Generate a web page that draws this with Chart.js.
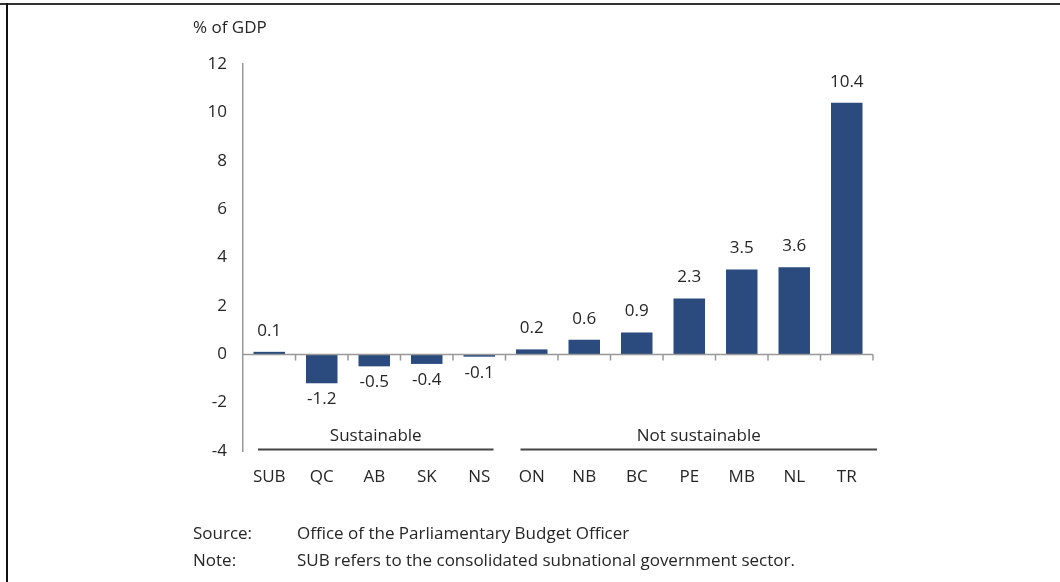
<!DOCTYPE html>
<html>
<head>
<meta charset="utf-8">
<script src="https://cdn.jsdelivr.net/npm/chart.js@4"></script>
<style>
    body { margin: 0; background: #fff; }
    .frame { position: relative; width: 1060px; height: 582px; overflow: hidden; }
    .frame::before { content: ''; position: absolute; left: 0; top: 3px; width: 1060px; height: 2px; background: #333; }
    .frame::after { content: ''; position: absolute; left: 6px; top: 3px; width: 2px; height: 582px; background: #111; }
    canvas { position: absolute; left: 0; top: 0; }
</style>
</head>
<body>
<div class="frame">
    <canvas id="gapChart" width="1060" height="582"></canvas>
</div>
<script>
const regions = ['SUB', 'QC', 'AB', 'SK', 'NS', 'ON', 'NB', 'BC', 'PE', 'MB', 'NL', 'TR']
const gapValues = [0.1, -1.2, -0.5, -0.4, -0.1, 0.2, 0.6, 0.9, 2.3, 3.5, 3.6, 10.4]
const yTicks = [12, 10, 8, 6, 4, 2, 0, -2, -4]
const groups = [
    { label: 'Sustainable', from: 0, to: 4 },
    { label: 'Not sustainable', from: 5, to: 11 },
]
const footnotes = [
    ['Source:', 'Office of the Parliamentary Budget Officer'],
    ['Note:', 'SUB refers to the consolidated subnational government sector.'],
]

const FONT = '"Open Sans", sans-serif'
const SIZE = 17
const WEIGHT = 500
const TEXT = '#262626'
const AXIS = '#999999'
const BAR = '#2b4a7e'

const annotations = {
    id: 'annotations',
    afterDatasetsDraw(chart) {
        const { ctx, scales: { x, y }, chartArea } = chart
        ctx.save()

        // zero line with downward ticks between categories
        const y0 = Math.round(y.getPixelForValue(0)) + 0.5
        ctx.strokeStyle = AXIS
        ctx.lineWidth = 1.5
        ctx.beginPath()
        ctx.moveTo(chartArea.left, y0)
        ctx.lineTo(chartArea.right, y0)
        const step = x.width / regions.length
        for (let i = 1; i <= regions.length; i++) {
            const px = chartArea.left + step * i
            ctx.moveTo(px, y0)
            ctx.lineTo(px, y0 + 6)
        }
        ctx.stroke()

        // value labels
        ctx.fillStyle = TEXT
        ctx.font = `${WEIGHT} ${SIZE}px ${FONT}`
        ctx.textAlign = 'center'
        ctx.textBaseline = 'middle'
        const meta = chart.getDatasetMeta(0)
        meta.data.forEach((bar, i) => {
            const v = gapValues[i]
            const ly = v >= 0 ? bar.y - 21 : bar.y + 16
            ctx.fillText(v.toFixed(1), bar.x, ly)
        })

        // group brackets
        const half = step / 2
        groups.forEach(g => {
            const left = x.getPixelForValue(g.from) - half + 15
            const right = x.getPixelForValue(g.to) + half + (g.to === regions.length - 1 ? 4 : -12)
            const ly = chartArea.bottom - 1.5
            ctx.strokeStyle = '#444'
            ctx.lineWidth = 2
            ctx.beginPath()
            ctx.moveTo(left, ly)
            ctx.lineTo(right, ly)
            ctx.stroke()
            ctx.fillText(g.label, (left + right) / 2, ly - 13)
        })

        // unit label and footnotes
        ctx.textAlign = 'left'
        ctx.fillText('% of GDP', 193, 28)
        footnotes.forEach((row, i) => {
            ctx.fillText(row[0], 193, 534 + i * 27)
            ctx.fillText(row[1], 297, 534 + i * 27)
        })
        ctx.restore()
    },
}

new Chart(document.getElementById('gapChart'), {
    type: 'bar',
    data: {
        labels: regions,
        datasets: [{
            data: gapValues,
            backgroundColor: BAR,
            borderWidth: 0,
            barPercentage: 0.6,
            categoryPercentage: 1,
        }],
    },
    options: {
        responsive: false,
        animation: false,
        layout: { padding: { left: 0, right: 187, top: 64, bottom: 91 } },
        plugins: {
            legend: { display: false },
            tooltip: { enabled: false },
        },
        scales: {
            x: {
                grid: { display: false, drawTicks: false },
                border: { display: false },
                ticks: { color: TEXT, font: { family: FONT, size: SIZE, weight: WEIGHT }, padding: 16, maxRotation: 0, autoSkip: false },
                afterFit: scale => { scale.height = 40 },
            },
            y: {
                min: -4,
                max: 12,
                afterBuildTicks: scale => { scale.ticks = yTicks.map(v => ({ value: v })) },
                grid: { display: false, drawOnChartArea: false, drawTicks: true, tickLength: 6, tickColor: AXIS, tickWidth: 1.5 },
                border: { display: true, color: AXIS, width: 1.5 },
                ticks: { color: TEXT, font: { family: FONT, size: SIZE, weight: WEIGHT }, padding: 10 },
                afterFit: scale => { scale.width = 243 },
            },
        },
    },
    plugins: [annotations],
})
</script>
</body>
</html>
